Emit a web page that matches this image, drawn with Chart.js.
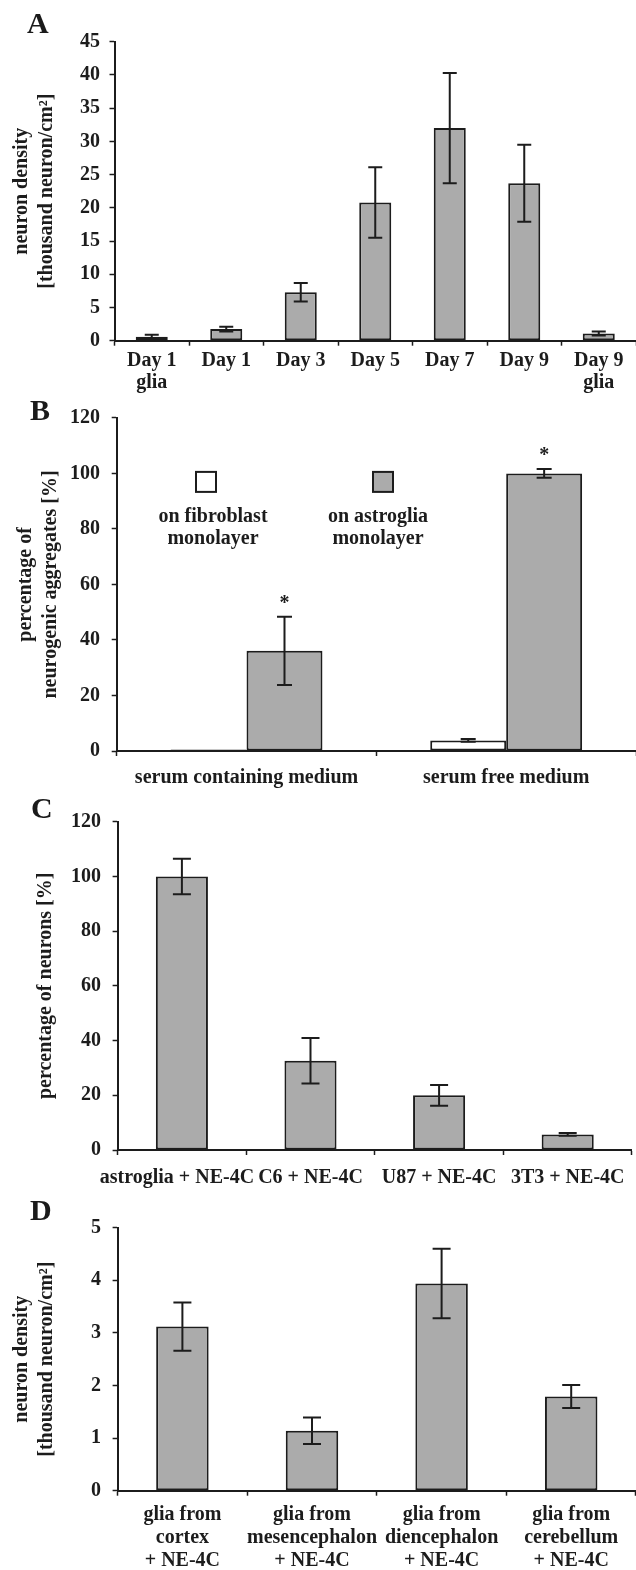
<!DOCTYPE html>
<html><head><meta charset="utf-8">
<script src="https://cdn.jsdelivr.net/npm/chart.js@4.4.1/dist/chart.umd.min.js"></script>
<style>
body{margin:0;background:#fff;}
#wrap{position:relative;width:636px;height:1570px;overflow:hidden;background:#fff;}
canvas{position:absolute;left:0;}
.lbl{position:absolute;font:bold 30px 'Liberation Serif','Times New Roman',serif;line-height:30px;color:#1a1a1a;}
</style></head><body>
<div id="wrap">
<canvas id="cA" width="636" height="400" style="top:0px"></canvas>
<canvas id="cB" width="636" height="400" style="top:395px"></canvas>
<canvas id="cC" width="636" height="400" style="top:790px"></canvas>
<canvas id="cD" width="636" height="385" style="top:1185px"></canvas>
<div class="lbl" style="left:27px;top:8px">A</div>
<div class="lbl" style="left:30px;top:395px">B</div>
<div class="lbl" style="left:31px;top:793px">C</div>
<div class="lbl" style="left:30px;top:1195px">D</div>
</div>
<script>
// ---------- data ----------
const catsA = [['Day 1','glia'],'Day 1','Day 3','Day 5','Day 7','Day 9',['Day 9','glia']];
const valsA = [0.6, 1.75, 7.3, 20.8, 32.0, 23.7, 1.1];
const errA  = [0.3, 0.35, 1.4, 5.3, 8.3, 5.8, 0.3];
const titleA = ['neuron density','[thousand neuron/cm²]'];

const catsB = ['serum containing medium','serum free medium'];
const seriesB = ['on fibroblast monolayer','on astroglia monolayer'];
const legendLinesB = [['on fibroblast','monolayer'],['on astroglia','monolayer']];
const fibroB = [0.5, 3.8];
const fibroErrB = [0, 0.5];
const astroB = [36.1, 100];
const astroErrB = [12.3, 1.6];
const starsB = ['*','*'];
const titleB = ['percentage of','neurogenic aggregates [%]'];

const catsC = ['astroglia + NE-4C  ','C6 + NE-4C','U87 + NE-4C','3T3 + NE-4C'];
const valsC = [100, 32.6, 20.0, 5.7];
const errC  = [6.5, 8.3, 3.8, 0.5];
const titleC = 'percentage of neurons [%]';

const catsD = [['glia from','cortex','+ NE-4C'],['glia from','mesencephalon','+ NE-4C'],['glia from','diencephalon','+ NE-4C'],['glia from','cerebellum','+ NE-4C']];
const valsD = [3.12, 1.14, 3.94, 1.79];
const errD  = [0.46, 0.25, 0.66, 0.22];
const titleD = ['neuron density','[thousand neuron/cm²]'];

// ---------- style ----------
const INK = '#1c1c1c';
const GRAY = '#ababab';
const FAMILY = "'Liberation Serif','Times New Roman',serif";
Chart.defaults.font.family = FAMILY;
Chart.defaults.font.size = 20;
Chart.defaults.font.weight = 'bold';
Chart.defaults.color = INK;

const errorBars = {
  id: 'errorBars',
  afterDatasetsDraw(chart, args, opts) {
    const ctx = chart.ctx, y = chart.scales.y;
    chart.data.datasets.forEach((ds, i) => {
      if (!ds.errors) return;
      const meta = chart.getDatasetMeta(i);
      meta.data.forEach((bar, j) => {
        const v = ds.data[j], e = ds.errors[j];
        if (!e) return;
        const t = y.getPixelForValue(v + e), b = y.getPixelForValue(v - e);
        const x = bar.x, hw = (opts.cap || 14) / 2;
        ctx.save();
        ctx.strokeStyle = INK; ctx.lineWidth = 2;
        ctx.beginPath();
        ctx.moveTo(x, t); ctx.lineTo(x, b);
        ctx.moveTo(x - hw, t); ctx.lineTo(x + hw, t);
        ctx.moveTo(x - hw, b); ctx.lineTo(x + hw, b);
        ctx.stroke();
        ctx.restore();
      });
    });
  }
};

const starMarks = {
  id: 'starMarks',
  afterDatasetsDraw(chart) {
    const ctx = chart.ctx, y = chart.scales.y;
    chart.data.datasets.forEach((ds, i) => {
      if (!ds.stars) return;
      const meta = chart.getDatasetMeta(i);
      meta.data.forEach((bar, j) => {
        if (!ds.stars[j]) return;
        const top = y.getPixelForValue(ds.data[j] + (ds.errors ? ds.errors[j] : 0));
        ctx.save();
        ctx.fillStyle = INK;
        ctx.font = 'bold 20px ' + FAMILY;
        ctx.textAlign = 'center'; ctx.textBaseline = 'alphabetic';
        ctx.fillText(ds.stars[j], bar.x, top - 8);
        ctx.restore();
      });
    });
  }
};

const boxLegend = {
  id: 'boxLegend',
  afterDraw(chart, args, opts) {
    if (!opts.items) return;
    const ctx = chart.ctx, a = chart.chartArea;
    opts.items.forEach((it, i) => {
      const ds = chart.data.datasets[i];
      const cx = a.left + it.dx, cy = a.top + opts.dy;
      ctx.save();
      ctx.fillStyle = ds.backgroundColor;
      ctx.strokeStyle = INK; ctx.lineWidth = 2;
      ctx.fillRect(cx - 10, cy - 10, 20, 20);
      ctx.strokeRect(cx - 10, cy - 10, 20, 20);
      ctx.fillStyle = INK;
      ctx.font = 'bold 20px ' + FAMILY;
      ctx.textAlign = 'center'; ctx.textBaseline = 'middle';
      it.lines.forEach((ln, k) => ctx.fillText(ln, a.left + it.tx, cy + opts.textDy + k * 22));
      ctx.restore();
    });
  }
};

function yScale(min, max, step, title, titlePad, axisW, labelPad) {
  return {
    min, max,
    ticks: {stepSize: step, padding: labelPad, color: INK, font: {size: 20, weight: 'bold', lineHeight: 1.12}},
    grid: {drawOnChartArea: false, drawTicks: true, tickLength: 5, tickColor: INK, tickWidth: 1.5},
    border: {display: true, color: INK, width: 2},
    title: {display: true, text: title, color: INK, font: {size: 20, weight: 'bold', lineHeight: 1.23}, padding: {top: titlePad, bottom: 0}},
    afterFit(s) { s.width = axisW; }
  };
}
function xScale(labelPad, h, lh) {
  return {
    offset: true,
    ticks: {autoSkip: false, maxRotation: 0, minRotation: 0, padding: labelPad, color: INK, font: {size: 20, weight: 'bold', lineHeight: lh}},
    grid: {offset: true, drawOnChartArea: false, drawTicks: true, tickLength: 5, tickColor: INK, tickWidth: 1.5},
    border: {display: true, color: INK, width: 2},
    afterFit(s) { s.height = h; }
  };
}
function base(padTop, x, y, extraPlugins) {
  return {
    responsive: false, animation: false, devicePixelRatio: 1,
    layout: {padding: {top: padTop, left: 0, right: 0, bottom: 0}},
    scales: {x, y},
    plugins: Object.assign({legend: {display: false}, tooltip: {enabled: false}}, extraPlugins || {})
  };
}
function barDs(label, data, errors, bg, bp, cp, extra) {
  return Object.assign({label, data, errors, backgroundColor: bg, borderColor: INK, borderWidth: 2, borderSkipped: false, barPercentage: bp, categoryPercentage: cp}, extra || {});
}

new Chart(document.getElementById('cA'), {
  type: 'bar',
  data: {labels: catsA, datasets: [barDs('A', valsA, errA, GRAY, 0.43, 1)]},
  options: base(41.7, xScale(4, 59.3, 1.1), yScale(0, 45, 5, titleA, 10, 114.5, 9.5), {errorBars: {cap: 14}}),
  plugins: [errorBars]
});

new Chart(document.getElementById('cB'), {
  type: 'bar',
  data: {labels: catsB, datasets: [
    barDs(seriesB[0], fibroB, fibroErrB, '#ffffff', 1, 0.585),
    barDs(seriesB[1], astroB, astroErrB, GRAY, 1, 0.585, {stars: starsB})
  ]},
  options: base(16.5, xScale(11, 44, 1.12), yScale(0, 120, 20, titleB, 14, 116.7, 11.7), {
    errorBars: {cap: 15},
    boxLegend: {dy: 64, textDy: 35, items: [
      {dx: 89.3, tx: 96.3, lines: legendLinesB[0]},
      {dx: 266.3, tx: 261.3, lines: legendLinesB[1]}
    ]}
  }),
  plugins: [errorBars, starMarks, boxLegend]
});

new Chart(document.getElementById('cC'), {
  type: 'bar',
  data: {labels: catsC, datasets: [barDs('C', valsC, errC, GRAY, 0.405, 1)]},
  options: base(31.7, xScale(11.5, 40, 1.12), yScale(0, 120, 20, titleC, 34, 117.6, 11.6), {errorBars: {cap: 18}}),
  plugins: [errorBars]
});

new Chart(document.getElementById('cD'), {
  type: 'bar',
  data: {labels: catsD, datasets: [barDs('D', valsD, errD, GRAY, 0.405, 1)]},
  options: base(42.7, xScale(7, 79.3, 1.17), yScale(0, 5, 1, titleD, 10, 117.6, 11.6), {errorBars: {cap: 18}}),
  plugins: [errorBars]
});
</script>
</body></html>
